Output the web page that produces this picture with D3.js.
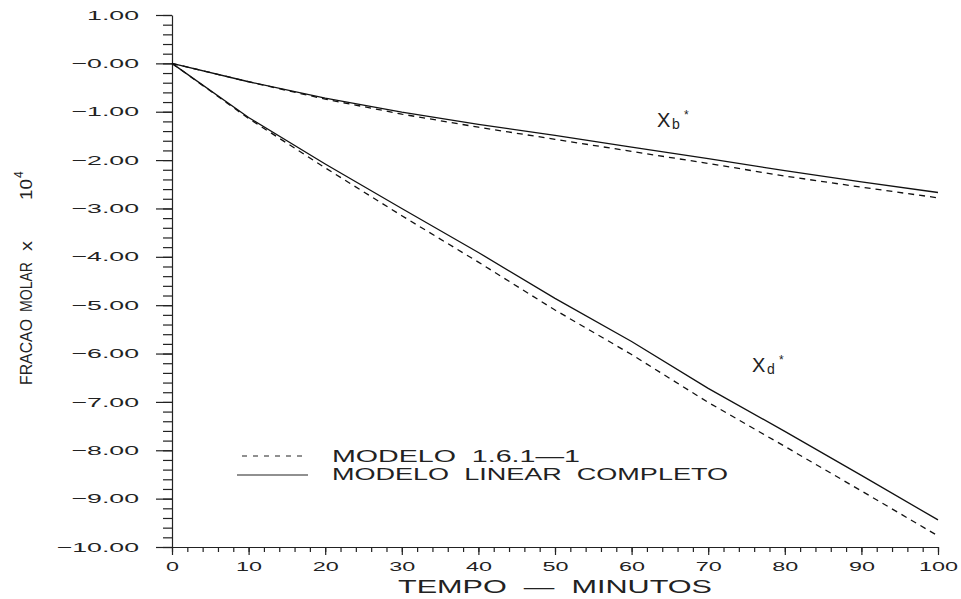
<!DOCTYPE html>
<html>
<head>
<meta charset="utf-8">
<script src="https://cdn.jsdelivr.net/npm/d3@7"></script>
<style>
  body { margin: 0; background: #fff; }
  svg { display: block; }
  text { font-family: "Liberation Sans", Arial, sans-serif; fill: #222; white-space: pre; }
</style>
</head>
<body>
<svg id="chart" width="961" height="599"></svg>
<script>
// Time (minutes)
const time = [0, 10, 20, 30, 40, 50, 60, 70, 80, 90, 100];
// Xb* — full linear model (solid) and model 1.6.1-1 (dashed), molar fraction x 10^4
const xbLinear = [0, -0.38, -0.72, -1.01, -1.26, -1.49, -1.73, -1.97, -2.22, -2.45, -2.67];
const xbModelo = [0, -0.38, -0.74, -1.05, -1.32, -1.57, -1.82, -2.07, -2.33, -2.56, -2.78];
// Xd* — full linear model (solid) and model 1.6.1-1 (dashed)
const xdLinear = [0, -1.12, -2.08, -3.00, -3.91, -4.86, -5.75, -6.72, -7.61, -8.52, -9.44];
const xdModelo = [0, -1.14, -2.16, -3.15, -4.11, -5.10, -6.02, -7.01, -7.92, -8.84, -9.77];

const xTicks = [0, 10, 20, 30, 40, 50, 60, 70, 80, 90, 100];
const xTickLabels = ["0", "10", "20", "30", "40", "50", "60", "70", "80", "90", "100"];
const yTicks = [1, 0, -1, -2, -3, -4, -5, -6, -7, -8, -9, -10];
const yTickLabels = ["1.00", "\u22120.00", "\u22121.00", "\u22122.00", "\u22123.00", "\u22124.00",
  "\u22125.00", "\u22126.00", "\u22127.00", "\u22128.00", "\u22129.00", "\u221210.00"];
const legendLabels = ["MODELO  1.6.1\u20141", "MODELO  LINEAR  COMPLETO"];

const svg = d3.select("#chart");
const x = d3.scaleLinear().domain([0, 100]).range([172, 938]);
const y = d3.scaleLinear().domain([1, -10]).range([15, 547]);

// widen glyphs the way a pen plotter's stroke font looks
function stretch(sel, k) {
  sel.each(function () {
    const w = this.getComputedTextLength();
    this.setAttribute("textLength", (w * k).toFixed(1));
    this.setAttribute("lengthAdjust", "spacingAndGlyphs");
  });
}
function fitTo(sel, len) {
  sel.attr("textLength", len).attr("lengthAdjust", "spacingAndGlyphs");
}

function styleAxis(g) {
  g.selectAll("path, line").attr("stroke", "#222").attr("stroke-width", 1.2);
}

// ---- y axis: minor every 0.2, major every 1 ----
const yMinor = d3.range(-50, 6).map(i => i / 5);
svg.append("g").attr("transform", `translate(${x(0)},0)`)
  .call(d3.axisLeft(y).tickValues(yMinor).tickSize(9).tickSizeOuter(0).tickFormat(""))
  .call(styleAxis);
const yAxis = svg.append("g").attr("transform", `translate(${x(0)},0)`)
  .call(d3.axisLeft(y).tickValues(yTicks).tickSize(16).tickSizeOuter(0).tickPadding(17)
    .tickFormat((d, i) => yTickLabels[i]))
  .call(styleAxis);
yAxis.select(".domain").remove();
yAxis.selectAll("text").attr("font-size", 13).attr("font-family", null)
  .attr("fill", "#2a2a2a").call(stretch, 2.05);

// ---- x axis: minor every 2, major every 10 ----
const xMinor = d3.range(0, 101, 2);
svg.append("g").attr("transform", `translate(0,${y(-10)})`)
  .call(d3.axisBottom(x).tickValues(xMinor).tickSize(5).tickSizeOuter(0).tickFormat(""))
  .call(styleAxis);
const xAxis = svg.append("g").attr("transform", `translate(0,${y(-10)})`)
  .call(d3.axisBottom(x).tickValues(xTicks).tickSize(8).tickSizeOuter(0)
    .tickFormat((d, i) => xTickLabels[i]))
  .call(styleAxis);
xAxis.select(".domain").remove();
xAxis.selectAll("text").attr("font-size", 13).attr("font-family", null)
  .attr("fill", "#2a2a2a").attr("y", 19).attr("dy", "0.35em").call(stretch, 1.8);

// ---- curves ----
const line = d3.line().x(d => x(d[0])).y(d => y(d[1]));
const series = [
  { v: xbLinear, dash: null },
  { v: xbModelo, dash: "6,5" },
  { v: xdLinear, dash: null },
  { v: xdModelo, dash: "6,5" }
];
svg.append("g").selectAll("path").data(series).join("path")
  .attr("d", s => line(time.map((t, i) => [t, s.v[i]])))
  .attr("fill", "none").attr("stroke", "#111").attr("stroke-width", 1.3)
  .attr("stroke-dasharray", s => s.dash);

// ---- curve labels ----
function curveLabel(x0, base, sub) {
  const g = svg.append("g");
  g.append("text").attr("x", x0).attr("y", base).attr("font-size", 20).text("X");
  g.append("text").attr("x", x0 + 15).attr("y", base + 2).attr("font-size", 14).text(sub);
  g.append("text").attr("x", x0 + 27).attr("y", base - 8).attr("font-size", 12).text("*");
}
curveLabel(657, 127, "b");
curveLabel(752, 372, "d");

// ---- legend ----
const leg = svg.append("g");
const legDash = ["5,6", null];
legendLabels.forEach((lab, i) => {
  const ly = [456, 475][i];
  leg.append("line").attr("x1", [242, 237][i]).attr("x2", 308).attr("y1", ly).attr("y2", ly)
    .attr("stroke", "#222").attr("stroke-width", 1.2).attr("stroke-dasharray", legDash[i]);
  leg.append("text").attr("x", 332).attr("y", [462, 480][i]).attr("font-size", 16.5)
    .attr("xml:space", "preserve").text(lab).call(fitTo, [248, 396][i]);
});

// ---- axis titles ----
svg.append("text").attr("x", 398).attr("y", 593).attr("font-size", 18.5)
  .attr("xml:space", "preserve").text("TEMPO  \u2014  MINUTOS").call(fitTo, 314);

// rotated y title: words placed bottom-to-top (start position, length along the axis)
const yt = svg.append("g").attr("transform", "translate(32,0) rotate(-90)");
[["FRACAO", 385, 66], ["MOLAR", 312, 50], ["x", 251, 10], ["10", 200, 21]].forEach(([w, sy, len]) => {
  yt.append("text").attr("x", -sy).attr("y", 0).attr("font-size", 17).text(w).call(fitTo, len);
});
yt.append("text").attr("x", -178).attr("y", -9).attr("font-size", 12).text("4");
</script>
</body>
</html>
